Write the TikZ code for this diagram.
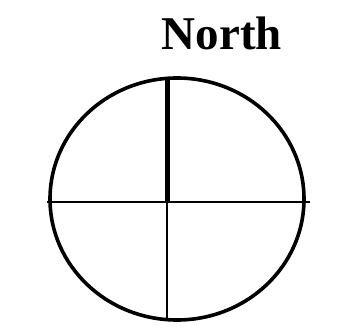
\documentclass[tikz,border=0pt]{standalone}
\usepackage{fontspec}
\setmainfont{Liberation Serif}
\begin{document}
\begin{tikzpicture}[x=1pt,y=-1pt,
  rim/.style={line width=3.6pt},
  thinline/.style={line width=2.2pt},
  thickline/.style={line width=5pt},
  lbl/.style={font=\fontsize{47}{50}\selectfont\bfseries, inner sep=0pt, anchor=base}]
\useasboundingbox (0,0) rectangle (345,328);
\coordinate (c) at (177,199);
\coordinate (top) at (167,77);
\coordinate (mid) at (167,202);
\coordinate (bot) at (167,321);
\coordinate (left) at (47,202);
\coordinate (right) at (310,202);
\draw[rim] (c) ellipse [x radius=127, y radius=121];
\draw[thinline] (left) -- (right);
\draw[thinline] (mid) -- (bot);
\draw[thickline] (top) -- (mid);
\node[lbl] (north) at (222,50) {North};
\end{tikzpicture}
\end{document}
